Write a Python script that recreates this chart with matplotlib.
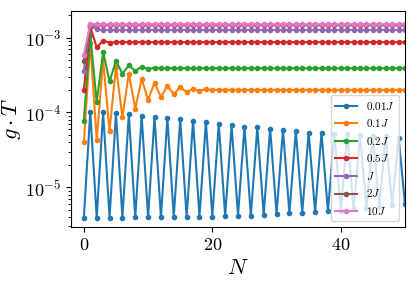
import numpy as np
import matplotlib
matplotlib.use("Agg")
import matplotlib.pyplot as plt

plt.rcParams["mathtext.fontset"] = "cm"
plt.rcParams["font.family"] = "serif"
plt.rcParams["font.serif"] = ["cmr10"]
plt.rcParams["axes.formatter.use_mathtext"] = True

N = np.arange(0, 51)

g_001 = [
    3.93e-6, 1.02e-4, 3.93e-6, 1.00e-4, 3.93e-6, 9.7e-5, 3.95e-6, 9.5e-5, 3.97e-6, 9.0e-5,
    3.98e-6, 8.7e-5, 4.00e-6, 8.4e-5, 4.02e-6, 8.1e-5, 4.04e-6, 7.8e-5, 4.06e-6, 7.5e-5,
    4.06e-6, 7.1e-5, 4.14e-6, 6.7e-5, 4.20e-6, 6.4e-5, 4.20e-6, 6.3e-5, 4.31e-6, 6.1e-5,
    4.40e-6, 5.9e-5, 4.50e-6, 5.7e-5, 4.60e-6, 5.4e-5, 4.69e-6, 5.3e-5, 4.80e-6, 5.2e-5,
    4.85e-6, 5.2e-5, 5.10e-6, 5.0e-5, 5.30e-6, 4.9e-5, 5.50e-6, 4.8e-5, 5.80e-6, 4.6e-5,
    5.90e-6,
]
g_01 = [
    4.0e-5, 8.5e-4, 4.3e-5, 5.0e-4, 5.7e-5, 4.1e-4, 8.7e-5, 3.3e-4, 1.13e-4, 2.8e-4,
    1.48e-4, 2.5e-4, 1.6e-4, 2.27e-4, 1.76e-4, 2.18e-4, 1.87e-4, 2.07e-4, 1.95e-4, 2.05e-4,
    1.99e-4, 2.02e-4, 1.99e-4, 2.01e-4, 2.0e-4, 2.0e-4, 2.0e-4, 2.0e-4, 2.0e-4, 2.0e-4,
    2.0e-4, 2.0e-4, 2.0e-4, 2.0e-4, 2.0e-4, 2.0e-4, 2.0e-4, 2.0e-4, 2.0e-4, 2.0e-4,
    2.0e-4, 2.0e-4, 2.0e-4, 2.0e-4, 2.0e-4, 2.0e-4, 2.0e-4, 2.0e-4, 2.0e-4, 2.0e-4,
    2.0e-4,
]
g_02 = [
    7.8e-5, 1.1e-3, 1.38e-4, 6.4e-4, 2.6e-4, 4.9e-4, 3.3e-4, 4.25e-4, 3.6e-4, 4.1e-4,
    3.8e-4, 3.98e-4, 3.87e-4, 3.92e-4, 3.9e-4, 3.9e-4, 3.9e-4, 3.9e-4, 3.9e-4, 3.9e-4,
    3.9e-4, 3.9e-4, 3.9e-4, 3.9e-4, 3.9e-4, 3.9e-4, 3.9e-4, 3.9e-4, 3.9e-4, 3.9e-4,
    3.9e-4, 3.9e-4, 3.9e-4, 3.9e-4, 3.9e-4, 3.9e-4, 3.9e-4, 3.9e-4, 3.9e-4, 3.9e-4,
    3.9e-4, 3.9e-4, 3.9e-4, 3.9e-4, 3.9e-4, 3.9e-4, 3.9e-4, 3.9e-4, 3.9e-4, 3.9e-4,
    3.9e-4,
]
g_05 = [
    2.0e-4, 1.4e-3, 7.4e-4, 9.1e-4, 8.6e-4, 8.7e-4, 8.7e-4, 8.7e-4, 8.7e-4, 8.7e-4,
    8.7e-4, 8.7e-4, 8.7e-4, 8.7e-4, 8.7e-4, 8.7e-4, 8.7e-4, 8.7e-4, 8.7e-4, 8.7e-4,
    8.7e-4, 8.7e-4, 8.7e-4, 8.7e-4, 8.7e-4, 8.7e-4, 8.7e-4, 8.7e-4, 8.7e-4, 8.7e-4,
    8.7e-4, 8.7e-4, 8.7e-4, 8.7e-4, 8.7e-4, 8.7e-4, 8.7e-4, 8.7e-4, 8.7e-4, 8.7e-4,
    8.7e-4, 8.7e-4, 8.7e-4, 8.7e-4, 8.7e-4, 8.7e-4, 8.7e-4, 8.7e-4, 8.7e-4, 8.7e-4,
    8.7e-4,
]
g_1 = [
    3.6e-4, 1.45e-3, 1.29e-3, 1.27e-3, 1.27e-3, 1.27e-3, 1.27e-3, 1.27e-3, 1.27e-3, 1.27e-3,
    1.27e-3, 1.27e-3, 1.27e-3, 1.27e-3, 1.27e-3, 1.27e-3, 1.27e-3, 1.27e-3, 1.27e-3, 1.27e-3,
    1.27e-3, 1.27e-3, 1.27e-3, 1.27e-3, 1.27e-3, 1.27e-3, 1.27e-3, 1.27e-3, 1.27e-3, 1.27e-3,
    1.27e-3, 1.27e-3, 1.27e-3, 1.27e-3, 1.27e-3, 1.27e-3, 1.27e-3, 1.27e-3, 1.27e-3, 1.27e-3,
    1.27e-3, 1.27e-3, 1.27e-3, 1.27e-3, 1.27e-3, 1.27e-3, 1.27e-3, 1.27e-3, 1.27e-3, 1.27e-3,
    1.27e-3,
]
g_2 = [
    4.9e-4, 1.47e-3, 1.46e-3, 1.46e-3, 1.46e-3, 1.46e-3, 1.46e-3, 1.46e-3, 1.46e-3, 1.46e-3,
    1.46e-3, 1.46e-3, 1.46e-3, 1.46e-3, 1.46e-3, 1.46e-3, 1.46e-3, 1.46e-3, 1.46e-3, 1.46e-3,
    1.46e-3, 1.46e-3, 1.46e-3, 1.46e-3, 1.46e-3, 1.46e-3, 1.46e-3, 1.46e-3, 1.46e-3, 1.46e-3,
    1.46e-3, 1.46e-3, 1.46e-3, 1.46e-3, 1.46e-3, 1.46e-3, 1.46e-3, 1.46e-3, 1.46e-3, 1.46e-3,
    1.46e-3, 1.46e-3, 1.46e-3, 1.46e-3, 1.46e-3, 1.46e-3, 1.46e-3, 1.46e-3, 1.46e-3, 1.46e-3,
    1.46e-3,
]
g_10 = [
    5.8e-4, 1.52e-3, 1.51e-3, 1.51e-3, 1.51e-3, 1.51e-3, 1.51e-3, 1.51e-3, 1.51e-3, 1.51e-3,
    1.51e-3, 1.51e-3, 1.51e-3, 1.51e-3, 1.51e-3, 1.51e-3, 1.51e-3, 1.51e-3, 1.51e-3, 1.51e-3,
    1.51e-3, 1.51e-3, 1.51e-3, 1.51e-3, 1.51e-3, 1.51e-3, 1.51e-3, 1.51e-3, 1.51e-3, 1.51e-3,
    1.51e-3, 1.51e-3, 1.51e-3, 1.51e-3, 1.51e-3, 1.51e-3, 1.51e-3, 1.51e-3, 1.51e-3, 1.51e-3,
    1.51e-3, 1.51e-3, 1.51e-3, 1.51e-3, 1.51e-3, 1.51e-3, 1.51e-3, 1.51e-3, 1.51e-3, 1.51e-3,
    1.51e-3,
]

series = [g_001, g_01, g_02, g_05, g_1, g_2, g_10]
labels = [r"$0.01J$", r"$0.1J$", r"$0.2J$", r"$0.5J$", r"$J$", r"$2J$", r"$10J$"]

fig = plt.figure(figsize=(4.16, 2.81), dpi=100)
ax = fig.add_axes([0.1707, 0.1922, 0.8029, 0.7687])

for vals, lab in zip(series, labels):
    ax.plot(N, vals, marker="o", markersize=3, linewidth=1.5, label=lab)

ax.set_yscale("log")
ax.set_xlim(-2, 50)
ax.set_ylim(2.95e-6, 2.27e-3)
ax.set_xticks([0, 20, 40])
ax.tick_params(axis="both", which="major", labelsize=13)

ax.set_xlabel(r"$N$", fontsize=16)
ax.set_ylabel(r"$g\cdot T$", fontsize=16)
ax.yaxis.set_label_coords(-0.145, 0.5)
ax.legend(loc="lower right", fontsize=8)

fig.savefig("out.png", dpi=100)
